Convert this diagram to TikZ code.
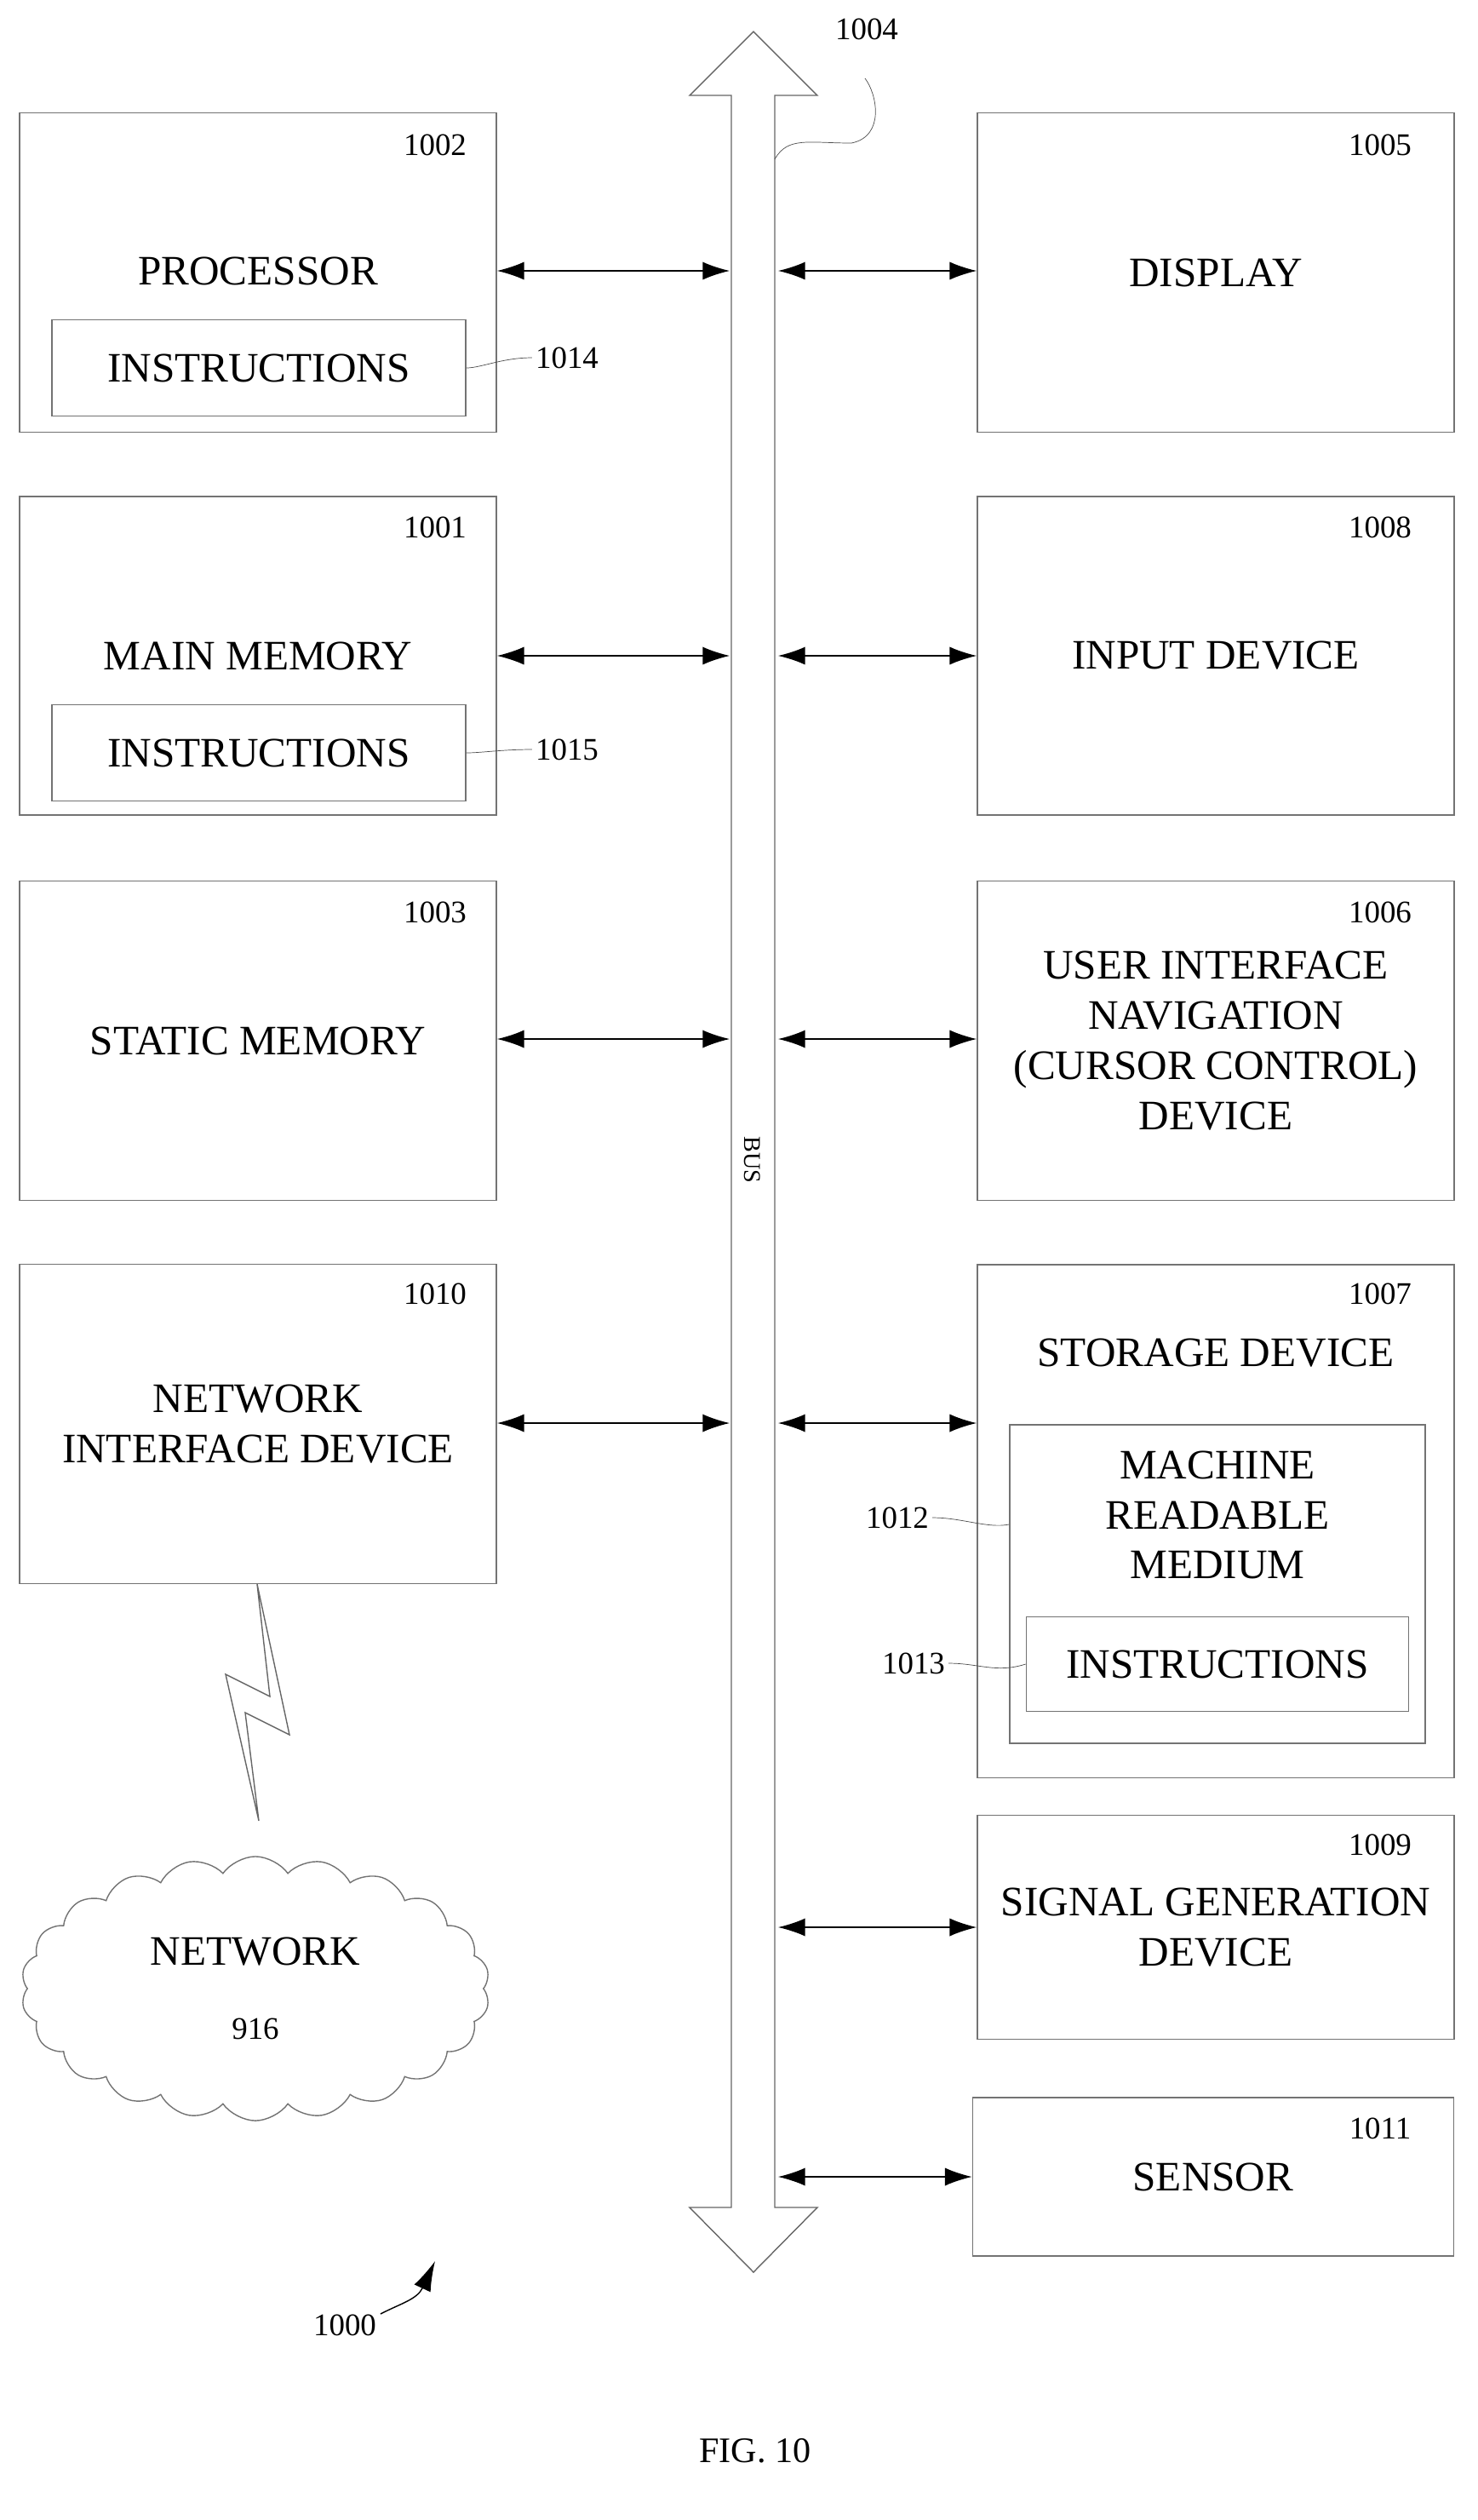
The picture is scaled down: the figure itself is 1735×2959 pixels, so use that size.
\documentclass[tikz,border=0pt]{standalone}
\usepackage{fontspec}
\setmainfont{Liberation Serif}
\usetikzlibrary{positioning,arrows.meta,calc,shapes.symbols}

\begin{document}
\begin{tikzpicture}[
  x=0.01cm, y=-0.01cm,
  font=\fontsize{14}{16.7}\selectfont,
  block/.style={draw=black!55, thin, minimum width=5.6cm, align=center, inner sep=0pt},
  inbox/.style={draw=black!55, thin, align=center, inner sep=0pt},
  num/.style={font=\fontsize{10.5}{12}\selectfont, inner sep=1pt},
  arr/.style={{Latex[length=9pt,width=6pt]}-{Latex[length=9pt,width=6pt]}, thin},
  lead/.style={draw=black!70, very thin}
]
\useasboundingbox (0,0) rectangle (1735,2959);

% left column
\node[block, minimum height=3.75cm] (proc) at (303,320) {};
\node at (303,318) {PROCESSOR};
\node[inbox, minimum width=4.86cm, minimum height=1.13cm] (instrA) at (304,432) {INSTRUCTIONS};
\node[num] at (511,170) {1002};

\node[block, minimum height=3.74cm] (mem) at (303,770) {};
\node at (303,770) {MAIN MEMORY};
\node[inbox, minimum width=4.86cm, minimum height=1.13cm] (instrB) at (304,884) {INSTRUCTIONS};
\node[num] at (511,619) {1001};

\node[block, minimum height=3.75cm] (smem) at (303,1222) {STATIC MEMORY};
\node[num] at (511,1071) {1003};

\node[block, minimum height=3.75cm] (nic) at (303,1672) {NETWORK\\INTERFACE DEVICE};
\node[num] at (511,1519) {1010};

% right column
\node[block, minimum height=3.75cm] (disp) at (1428,320) {DISPLAY};
\node[num] at (1621,170) {1005};
\node[block, minimum height=3.74cm] (inp) at (1428,770) {INPUT DEVICE};
\node[num] at (1621,619) {1008};
\node[block, minimum height=3.75cm] (nav) at (1428,1222) {USER INTERFACE\\NAVIGATION\\(CURSOR CONTROL)\\DEVICE};
\node[num] at (1621,1071) {1006};

\node[block, minimum height=6.02cm] (stor) at (1428,1786) {};
\node at (1428,1589) {STORAGE DEVICE};
\node[num] at (1621,1519) {1007};
\node[inbox, minimum width=4.88cm, minimum height=3.74cm] (mrm) at (1430,1860) {};
\node[align=center] at (1430,1779) {MACHINE\\READABLE\\MEDIUM};
\node[inbox, minimum width=4.49cm, minimum height=1.11cm] (instrC) at (1430,1954) {INSTRUCTIONS};

\node[block, minimum height=2.63cm] (sig) at (1428,2263) {SIGNAL GENERATION\\DEVICE};
\node[num] at (1621,2166) {1009};
\node[block, minimum width=5.65cm, minimum height=1.86cm] (sens) at (1425,2556) {SENSOR};
\node[num] at (1621,2499) {1011};

% bus
\draw[draw=black!60, thin] (859,112) -- (810,112) -- (885,37) -- (960,112) -- (910,112)
  -- (910,2592) -- (960,2592) -- (885,2668) -- (810,2592) -- (859,2592) -- cycle;
\node[font=\fontsize{8}{9}\selectfont, rotate=-90] (bus) at (884,1362) {BUS};
\node[num] (n1004) at (1018,34) {1004};
\draw[lead] (910,187) .. controls (925,160) and (950,168) .. (1000,168)
  .. controls (1040,160) and (1030,110) .. (1016,92);

% bus arrows
\foreach \b/\y in {proc/318, mem/770, smem/1220, nic/1671}{
  \draw[arr] (\b.east |- 0,\y) -- (857,\y);
}
\foreach \b/\y in {disp/318, inp/770, nav/1220, stor/1671, sig/2263, sens/2556}{
  \draw[arr] (914,\y) -- (\b.west |- 0,\y);
}

% leaders
\node[num] (n1014) at (666,420) {1014};
\draw[lead] (instrA.east) .. controls (565,432) and (590,420) .. (n1014.west);
\node[num] (n1015) at (666,880) {1015};
\draw[lead] (instrB.east) .. controls (565,884) and (590,880) .. (n1015.west);
\node[num] (n1012) at (1054,1782) {1012};
\draw[lead] (n1012.east) .. controls (1130,1782) and (1160,1795) .. (mrm.west |- 0,1790);
\node[num] (n1013) at (1073,1953) {1013};
\draw[lead] (n1013.east) .. controls (1150,1953) and (1170,1965) .. (instrC.west);

% network
\node[cloud, draw=black!55, thin, cloud puffs=22, cloud puff arc=110, aspect=1.8,
  minimum width=5.5cm, minimum height=3.1cm, align=center] (net) at (300,2335) {NETWORK\\[8pt]{\fontsize{10.5}{12}\selectfont 916}};
\draw[draw=black!60, thin] (302,1860) -- (340,2037) -- (288,2011) -- (304,2138)
  -- (265,1966) -- (317,1992) -- cycle;

\node[num] (n1000) at (405,2730) {1000};
\draw[-{Latex[length=10pt,width=6pt]}, thin] (447,2717) .. controls (470,2705) and (490,2700) .. (511,2655);

\node[font=\fontsize{12}{14}\selectfont] (fig) at (887,2878) {FIG. 10};
\end{tikzpicture}
\end{document}
